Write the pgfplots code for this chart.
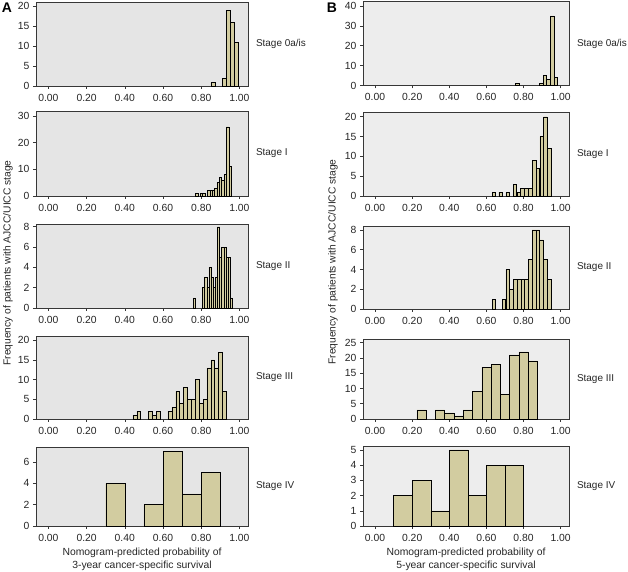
\documentclass[border=0pt]{standalone}
\usepackage{fontspec}
\setmainfont{Liberation Sans}
\usepackage{pgfplots}
\pgfplotsset{compat=1.18}
\definecolor{barfill}{RGB}{210,204,160}
\definecolor{baredge}{RGB}{105,103,88}
\definecolor{bgA}{RGB}{229,229,229}
\definecolor{bgB}{RGB}{237,237,237}
\definecolor{frame}{RGB}{55,55,55}
\pgfplotsset{
  hist/.style={
    scale only axis, anchor=south west,
    xmin=-0.065, xmax=1.045, ymin=0,
    xtick={0,0.2,0.4,0.6,0.8,1},
    xticklabel style={/pgf/number format/fixed,/pgf/number format/fixed zerofill,/pgf/number format/precision=2, yshift=-1.5bp},
    /pgf/number format/assume math mode=true,
    tick align=outside, xtick pos=bottom, ytick pos=left,
    major tick length=3bp,
    tick style={frame, line width=0.5bp},
    axis line style={frame, line width=0.6bp},
    ticklabel style={font=\fontsize{10.4}{12}\selectfont, text=black!85},
    ybar, bar shift=0pt, clip=false,
    cycle list={{fill=barfill, draw=baredge, line width=0.4bp}},
  },
  colA/.style={hist, width=212bp, axis background/.style={fill=bgA}},
  colB/.style={hist, width=206bp, axis background/.style={fill=bgB}},
}
\newcommand{\stagelab}[1]{\node[anchor=west, font=\fontsize{10}{12}\selectfont, text=black!85] at (rel axis cs:1,0.5) [xshift=4.5bp] {#1};}
\begin{document}
\begin{tikzpicture}
\useasboundingbox (0,0) rectangle (628bp,572bp);
% ---------------- Column A ----------------
\begin{axis}[colA, at={(36bp,486bp)}, height=84bp, ymax=21.1, ytick={0,5,10,15,20}, bar width=0.021]
\addplot coordinates {(0.861,1) (0.920,2) (0.9425,19) (0.9645,16) (0.9845,11)};
\stagelab{Stage 0a/is}
\end{axis}
\begin{axis}[colA, at={(36bp,376bp)}, height=85bp, ymax=31.9, ytick={0,10,20,30}, bar width=0.0125]
\addplot coordinates {(0.776,1) (0.801,1) (0.8135,1) (0.8385,2) (0.851,2) (0.8635,2) (0.876,3) (0.8885,5) (0.901,7) (0.9135,6) (0.926,8) (0.9385,26) (0.951,11)};
\stagelab{Stage I}
\end{axis}
\begin{axis}[colA, at={(36bp,264bp)}, height=84bp, ymax=8.27, ytick={0,2,4,6,8}, bar width=0.0112]
\addplot coordinates {(0.764,1) (0.812,2) (0.8232,3) (0.8344,2) (0.8456,4) (0.8568,3) (0.868,2) (0.8792,3) (0.8904,8) (0.9016,5) (0.9128,6) (0.924,6) (0.9352,5) (0.9464,5) (0.9576,1)};
\stagelab{Stage II}
\end{axis}
\begin{axis}[colA, at={(36bp,153bp)}, height=83bp, ymax=21.1, ytick={0,5,10,15,20}, bar width=0.0204]
\addplot coordinates {(0.4524,1) (0.4728,2) (0.534,2) (0.5544,1) (0.5748,2) (0.636,2) (0.6564,3) (0.6768,7) (0.6972,4) (0.7176,8) (0.738,5) (0.7584,5) (0.7788,10) (0.7992,4) (0.8196,5) (0.84,13) (0.8604,15) (0.8808,13) (0.9012,17) (0.9216,7)};
\stagelab{Stage III}
\end{axis}
\begin{axis}[colA, at={(36bp,46bp)}, height=79bp, ymax=7.4, ytick={0,2,4,6}, bar width=0.1]
\addplot coordinates {(0.35,4) (0.55,2) (0.65,7) (0.75,3) (0.85,5)};
\stagelab{Stage IV}
\end{axis}
% ---------------- Column B ----------------
\begin{axis}[colB, at={(363bp,486.5bp)}, height=84bp, ymax=42.2, ytick={0,10,20,30,40}, bar width=0.0195]
\addplot coordinates {(0.767,1) (0.8955,1) (0.915,5) (0.9345,3) (0.954,35) (0.9735,4)};
\stagelab{Stage 0a/is}
\end{axis}
\begin{axis}[colB, at={(363bp,376bp)}, height=84bp, ymax=21.2, ytick={0,5,10,15,20}, bar width=0.0195]
\addplot coordinates {(0.640,1) (0.676,1) (0.715,1) (0.7531,3) (0.7737,1) (0.7943,2) (0.8149,2) (0.8355,2) (0.8561,9) (0.8767,7) (0.8973,15) (0.9179,20) (0.9385,12)};
\stagelab{Stage I}
\end{axis}
\begin{axis}[colB, at={(363bp,263bp)}, height=83bp, ymax=8.4, ytick={0,2,4,6,8}, bar width=0.0195]
\addplot coordinates {(0.640,1) (0.694,1) (0.714,4) (0.734,2) (0.754,3) (0.775,3) (0.795,3) (0.815,3) (0.835,5) (0.856,8) (0.876,8) (0.896,7) (0.916,5) (0.937,3)};
\stagelab{Stage II}
\end{axis}
\begin{axis}[colB, at={(363bp,153bp)}, height=80bp, ymax=26.2, ytick={0,5,10,15,20,25}, bar width=0.05]
\addplot coordinates {(0.25,3) (0.35,3) (0.40,2) (0.45,1) (0.50,3) (0.55,9) (0.60,17) (0.65,18) (0.70,8) (0.75,21) (0.80,22) (0.85,19)};
\stagelab{Stage III}
\end{axis}
\begin{axis}[colB, at={(363bp,46bp)}, height=80bp, ymax=5.26, ytick={0,1,2,3,4,5}, bar width=0.1]
\addplot coordinates {(0.15,2) (0.25,3) (0.35,1) (0.45,5) (0.55,2) (0.65,4) (0.75,4)};
\stagelab{Stage IV}
\end{axis}
% ---------------- Labels ----------------
\node[font=\fontsize{14}{16}\selectfont\bfseries] at (7bp,564bp) {A};
\node[font=\fontsize{14}{16}\selectfont\bfseries] at (332bp,564bp) {B};
\node[rotate=90, font=\fontsize{10.3}{12}\selectfont, text=black!85] at (8bp,309bp) {Frequency of patients with AJCC/UICC stage};
\node[rotate=90, font=\fontsize{10.3}{12}\selectfont, text=black!85] at (333bp,310bp) {Frequency of patients with AJCC/UICC stage};
\node[align=center, font=\fontsize{10.4}{13}\selectfont, text=black!85] at (142bp,12.5bp) {Nomogram-predicted probability of\\3-year cancer-specific survival};
\node[align=center, font=\fontsize{10.4}{13}\selectfont, text=black!85] at (466bp,12.5bp) {Nomogram-predicted probability of\\5-year cancer-specific survival};
\end{tikzpicture}
\end{document}
